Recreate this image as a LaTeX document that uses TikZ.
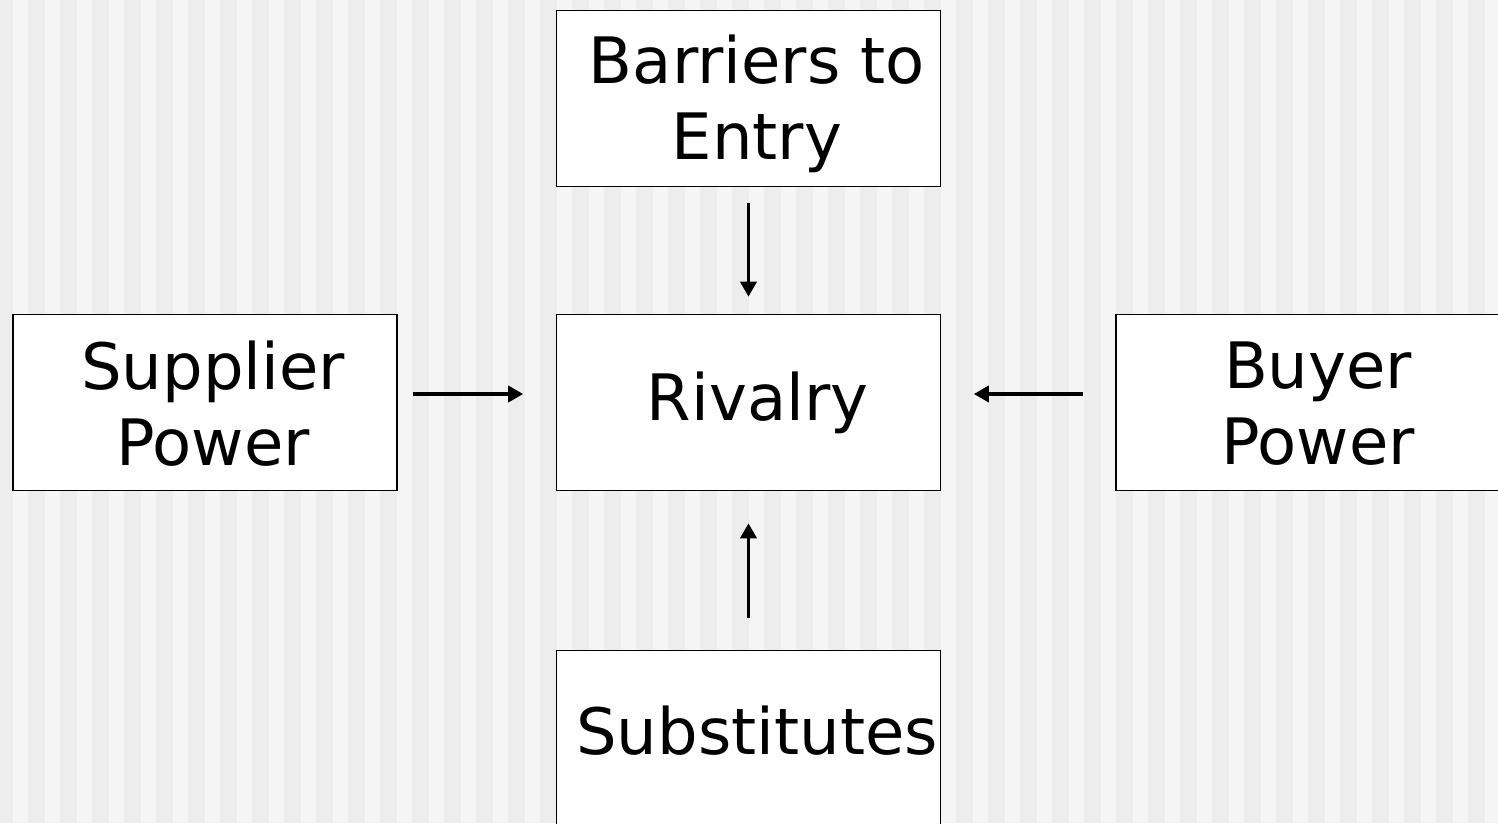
\documentclass[tikz,border=0pt]{standalone}
\usepackage{fontspec}
\setmainfont{DejaVu Sans}
\usetikzlibrary{arrows.meta}
\definecolor{bgdark}{HTML}{EDEDED}
\definecolor{bglight}{HTML}{F5F5F5}
\begin{document}
\begin{tikzpicture}[x=1pt,y=-1pt,
  box/.style={draw=black,line width=1.6pt,fill=white,rectangle,minimum width=384pt,minimum height=176pt,inner sep=0pt},
  lbl/.style={align=center,inner sep=0pt,font=\fontsize{64}{76}\selectfont},
  arr/.style={line width=3.6pt,-{Triangle[length=15pt,width=16pt]}}]
\useasboundingbox (0,0) rectangle (1498,823);
\fill[bgdark] (0,0) rectangle (1498,823);
\foreach \k in {0,...,46} {
  \fill[bglight] ({13+32*\k},0) rectangle ({28+32*\k},823);
}
% boxes
\node[box] (bar) at (748.5,98.3) {};
\node[box] (riv) at (748.5,402.5) {};
\node[box] (sup) at (204.7,402.5) {};
\node[box] (buy) at (1308,402.5) {};
\node[box] (sub) at (748.5,738.6) {};
% labels
\node[lbl] (barT) at (757,104.2) {Barriers to\\Entry};
\node[lbl] (rivT) at (757.5,403.2) {Rivalry};
\node[lbl] (supT) at (213,403.7) {Supplier\\Power};
\node[lbl] (buyT) at (1318,403.5) {Buyer\\Power};
\node[lbl] (subT) at (757,730.7) {Substitutes};
% connectors
\draw[arr,shorten <=16pt,shorten >=17pt] (bar.south) -- (riv.north);
\draw[arr,shorten <=32pt,shorten >=32pt] (sub.north) -- (riv.south);
\draw[arr,shorten <=15.6pt,shorten >=32.5pt] ([yshift=8.5pt]sup.east) -- ([yshift=8.5pt]riv.west);
\draw[arr,shorten <=32pt,shorten >=32.5pt] ([yshift=8.5pt]buy.west) -- ([yshift=8.5pt]riv.east);
\end{tikzpicture}
\end{document}
